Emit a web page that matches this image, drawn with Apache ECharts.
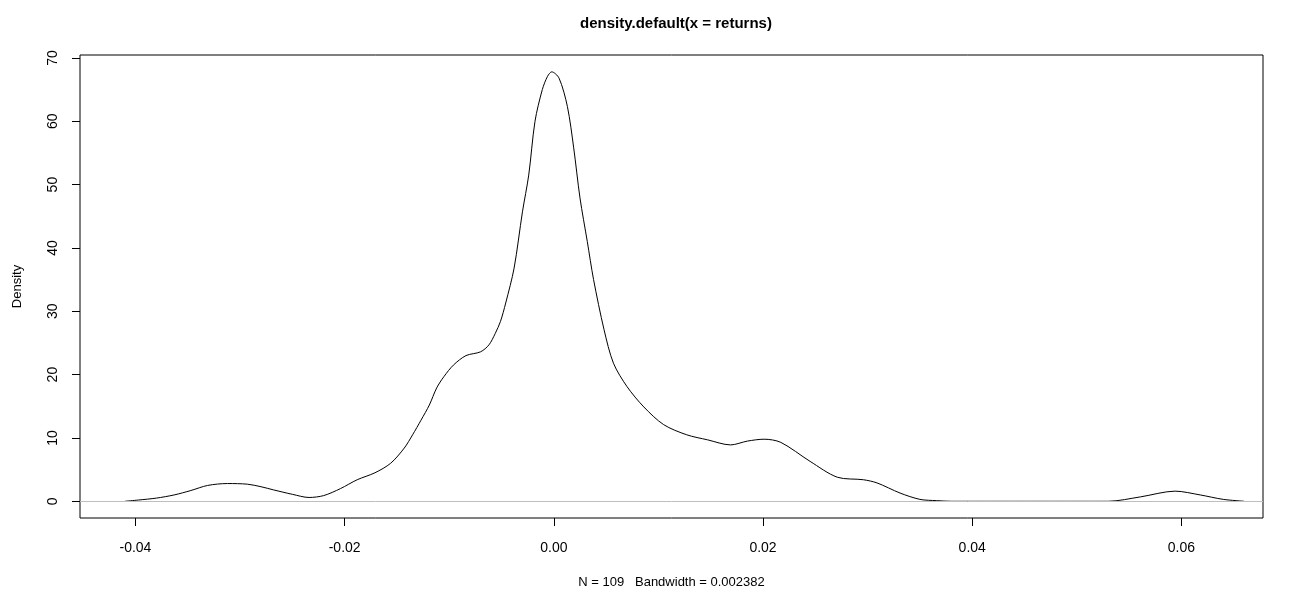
<!DOCTYPE html>
<html>
<head>
<meta charset="utf-8">
<title>density.default(x = returns)</title>
<script src="https://cdn.jsdelivr.net/npm/echarts@6/dist/echarts.min.js"></script>
<style>
  html, body { margin: 0; padding: 0; background: #fff; }
  #chart { width: 1293px; height: 598px; }
</style>
</head>
<body>
<div id="chart"></div>
<script>
// density estimate
const densityX = [
  -0.0410, -0.0397, -0.0380, -0.0363, -0.0347, -0.0331, -0.0312, -0.0293, -0.0280, -0.0268,
  -0.0250, -0.0234, -0.0220, -0.0204, -0.0188, -0.0171, -0.0156, -0.0143, -0.0135, -0.0127,
  -0.0119, -0.0112, -0.0105, -0.0096, -0.0084, -0.0070, -0.0062, -0.0056, -0.0051, -0.0046,
  -0.0038, -0.0030, -0.0024, -0.0018, -0.0011, -0.0006, -0.0002, 0.0005, 0.0013, 0.0019,
  0.0025, 0.0032, 0.0038, 0.0048, 0.0057, 0.0070, 0.0086, 0.0105, 0.0127, 0.0147,
  0.0169, 0.0185, 0.0201, 0.0217, 0.0245, 0.0271, 0.0296, 0.0309, 0.0331, 0.0350,
  0.0366, 0.0380, 0.0530, 0.0561, 0.0594, 0.0618, 0.0640, 0.0660
];
const densityY = [
  0.0, 0.2, 0.5, 1.0, 1.7, 2.5, 2.8, 2.7, 2.3, 1.8,
  1.1, 0.6, 0.9, 2.0, 3.4, 4.5, 6.0, 8.4, 10.5, 12.8,
  15.2, 17.9, 19.7, 21.5, 23.0, 23.6, 24.7, 26.5, 28.4, 31.3,
  36.8, 45.7, 51.5, 60.0, 65.0, 67.1, 67.8, 66.8, 62.3, 55.8,
  47.9, 41.0, 35.0, 27.1, 21.8, 18.1, 14.9, 12.1, 10.5, 9.7,
  8.9, 9.5, 9.8, 9.3, 6.3, 3.8, 3.4, 2.9, 1.3, 0.3,
  0.1, 0.0, 0.0, 0.7, 1.6, 1.0, 0.3, 0.0
];
const xTicks = [-0.04, -0.02, 0.00, 0.02, 0.04, 0.06];
const yTicks = [0, 10, 20, 30, 40, 50, 60, 70];
const titleText = 'density.default(x = returns)';
const xLabel = 'N = 109   Bandwidth = 0.002382';
const yLabel = 'Density';

document.addEventListener('DOMContentLoaded', function () {
    const myChart = echarts.init(document.getElementById('chart'));
    const font = '"Liberation Sans", Arial, Helvetica, sans-serif';

    const points = densityX.map(function (x, i) { return [x, densityY[i]]; });

    const option = {
        animation: false,
        backgroundColor: '#fff',
        title: {
            text: titleText,
            left: 671,
            top: 11,
            textAlign: 'center',
            textStyle: { fontFamily: font, fontSize: 15, fontWeight: 'bold', color: '#000' }
        },
        grid: {
            left: 80, right: 30, top: 55, bottom: 80,
            containLabel: false,
            outerBoundsMode: 'none',
            show: true, borderColor: '#000', borderWidth: 1, backgroundColor: 'transparent'
        },
        xAxis: {
            type: 'value',
            min: -0.0453,
            max: 0.0678,
            name: xLabel,
            nameLocation: 'middle',
            nameGap: 58,
            nameTextStyle: { fontFamily: font, fontSize: 13, color: '#000' },
            axisLine: { show: false, onZero: false },
            axisTick: { show: true, length: 8, customValues: xTicks, lineStyle: { color: '#000' } },
            axisLabel: {
                customValues: xTicks,
                margin: 23,
                fontFamily: font, fontSize: 14, color: '#000',
                formatter: function (v) { return v.toFixed(2); }
            },
            splitLine: { show: false }
        },
        yAxis: {
            type: 'value',
            min: -2.64,
            max: 70.46,
            name: yLabel,
            nameLocation: 'middle',
            nameGap: 56,
            nameTextStyle: { fontFamily: font, fontSize: 13, color: '#000' },
            axisLine: { show: false, onZero: false },
            axisTick: { show: true, length: 8, customValues: yTicks, lineStyle: { color: '#000' } },
            axisLabel: {
                customValues: yTicks,
                rotate: 90,
                margin: 20,
                fontFamily: font, fontSize: 14, color: '#000'
            },
            splitLine: { show: false }
        },
        series: [{
            type: 'line',
            data: points,
            showSymbol: false,
            smooth: 0.3,
            lineStyle: { color: '#000', width: 1 },
            markLine: {
                silent: true,
                symbol: 'none',
                label: { show: false },
                lineStyle: { color: '#bebebe', width: 1, type: 'solid' },
                data: [{ yAxis: 0 }]
            },
            z: 3
        }]
    };

    myChart.setOption(option);
});
</script>
</body>
</html>
